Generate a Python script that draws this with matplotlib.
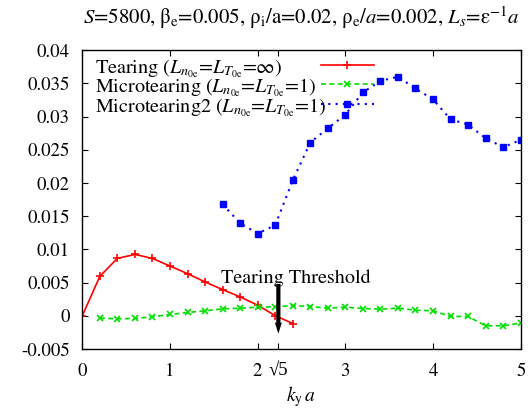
import numpy as np
import matplotlib
matplotlib.use("Agg")
import matplotlib.pyplot as plt
from matplotlib.lines import Line2D

plt.rcParams['font.family'] = ['STIXGeneral', 'DejaVu Serif']
plt.rcParams['mathtext.fontset'] = 'stix'
plt.rcParams['axes.unicode_minus'] = False

# Data
tear_x = [0.0, 0.2, 0.4, 0.6, 0.8, 1.0, 1.2, 1.4, 1.6, 1.8, 2.0, 2.2, 2.4]
tear_y = [0.0, 0.00595, 0.00865, 0.00925, 0.00865, 0.0075, 0.00635, 0.0051,
          0.00395, 0.00285, 0.0016, 0.00003, -0.00116]

micro_x = [0.2, 0.4, 0.6, 0.8, 1.0, 1.2, 1.4, 1.6, 1.8, 2.0, 2.2, 2.4, 2.6, 2.8,
           3.0, 3.2, 3.4, 3.6, 3.8, 4.0, 4.2, 4.4, 4.6, 4.8, 5.0]
micro_y = [-0.00035, -0.00045, -0.0004, -0.00015, 0.0002, 0.0005, 0.00075, 0.00105,
           0.00115, 0.0013, 0.00135, 0.00155, 0.0014, 0.00115, 0.0013, 0.0011,
           0.001, 0.00115, 0.00085, 0.00075, -0.0001, -0.0001, -0.0015, -0.0015,
           -0.0011]

micro2_x = [1.6, 1.8, 2.0, 2.2, 2.4, 2.6, 2.8, 3.0, 3.2, 3.4, 3.6, 3.8, 4.0, 4.2,
            4.4, 4.6, 4.8, 5.0]
micro2_y = [0.0168, 0.01395, 0.0124, 0.01365, 0.0204, 0.0261, 0.02825, 0.0303,
            0.03365, 0.0354, 0.036, 0.03425, 0.0326, 0.0296, 0.0288, 0.02675,
            0.0254, 0.0265]

labels = [r'Tearing ($L_{n_{0\mathrm{e}}}$=$L_{T_{0\mathrm{e}}}$=$\infty$)',
          r'Microtearing ($L_{n_{0\mathrm{e}}}$=$L_{T_{0\mathrm{e}}}$=1)',
          r'Microtearing2 ($L_{n_{0\mathrm{e}}}$=$L_{T_{0\mathrm{e}}}$=1)']

xticks = [0, 1, 2, np.sqrt(5), 3, 4, 5]
xticklabels = ['0', '1', '2', '√5', '3', '4', '5']
yticks = [-0.005, 0, 0.005, 0.01, 0.015, 0.02, 0.025, 0.03, 0.035, 0.04]
yticklabels = ['-0.005', '0', '0.005', '0.01', '0.015', '0.02', '0.025', '0.03', '0.035', '0.04']

threshold_x = np.sqrt(5)
arrow_top = 0.0048
arrow_tip = -0.0027

fig = plt.figure(figsize=(5.32, 4.13), dpi=100)
ax = fig.add_axes([82.3/532, 1 - 349/413, (520.7-82.3)/532, (349-50.3)/413])

styles = [
    dict(color='#ff0000', ls='-', lw=1.2, marker='+', ms=6, mew=1.2),
    dict(color='#00e000', ls=(0, (3, 2)), lw=1.2, marker='x', ms=5, mew=1.2),
    dict(color='#0000ff', ls=(0, (1, 2.5)), lw=1.5, marker='s', ms=4.2, mew=1.0),
]
ax.plot(tear_x, tear_y, **styles[0])
ax.plot(micro_x, micro_y, **styles[1])
ax.plot(micro2_x, micro2_y, **styles[2])

ax.set_xlim(0, 5)
ax.set_ylim(-0.005, 0.04)
ax.set_xticks(xticks)
ax.set_xticklabels(xticklabels)
ax.set_yticks(yticks)
ax.set_yticklabels(yticklabels)
ax.tick_params(direction='in', length=4, width=0.8, top=True, right=True,
               labelsize=13.5)
ax.tick_params(axis='y', pad=9)
ax.tick_params(axis='x', pad=10)
for lbl in ax.get_xticklabels():
    if lbl.get_text() == '√5':
        lbl.set_family(['Liberation Serif', 'DejaVu Serif'])
for s in ax.spines.values():
    s.set_linewidth(1.0)

ax.set_xlabel(r'$k_\mathrm{y}\,a$', fontsize=14, labelpad=3)
ax.set_title(r'$S$=5800, β$_\mathrm{e}$=0.005, ρ$_\mathrm{i}$/a=0.02, ρ$_\mathrm{e}$/$a$=0.002, $L_s$=ε$^{-1}$$a$',
             fontsize=15, pad=19)

# legend (gnuplot style: left-justified text, sample on right)
ly = [0.951, 0.886, 0.819]
for lab, y, st in zip(labels, ly, styles):
    ax.text(0.029, y, lab, transform=ax.transAxes, fontsize=14.5,
            va='center_baseline', ha='left')
    ax.add_line(Line2D([0.544, 0.665], [y, y], transform=ax.transAxes,
                       color=st['color'], ls=st['ls'], lw=st['lw']))
    ax.add_line(Line2D([0.603], [y], transform=ax.transAxes, color=st['color'],
                       ls='none', marker=st['marker'], ms=st['ms'], mew=st['mew']))

ax.annotate('', xy=(threshold_x, arrow_tip), xytext=(threshold_x, arrow_top),
            arrowprops=dict(arrowstyle='simple,head_length=0.8,head_width=0.5,tail_width=0.3',
                            fc='black', ec='none', mutation_scale=10,
                            shrinkA=0, shrinkB=0))
ax.text(1.58, 0.00495, 'Tearing Threshold', fontsize=14.5, ha='left', va='baseline')

fig.savefig('out.png', dpi=100)
